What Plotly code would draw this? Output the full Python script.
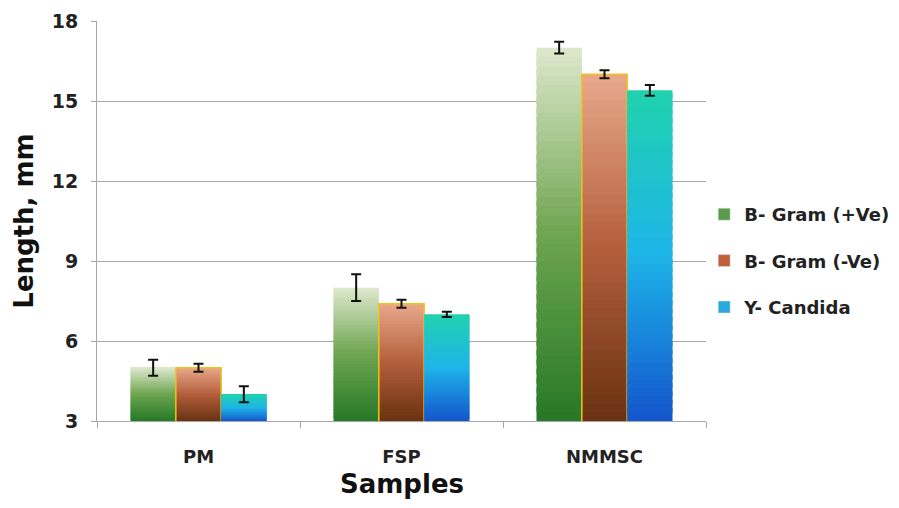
import plotly.graph_objects as go

categories = ["PM", "FSP", "NMMSC"]
series_names = ["B- Gram (+Ve)", "B- Gram (-Ve)", "Y- Candida"]
gram_pos = [5.0, 8.0, 17.0]
gram_neg = [5.0, 7.4, 16.0]
candida = [4.0, 7.0, 15.4]
err_gram_pos = [0.3, 0.5, 0.22]
err_gram_neg = [0.15, 0.15, 0.15]
err_candida = [0.3, 0.1, 0.2]
y_ticks = [3, 6, 9, 12, 15, 18]

values = [gram_pos, gram_neg, candida]
errors = [err_gram_pos, err_gram_neg, err_candida]

# gradient stops (bottom -> middle -> top)
stops = [
    [(38, 120, 38), (110, 165, 80), (222, 232, 205)],
    [(105, 50, 18), (180, 95, 60), (232, 168, 140)],
    [(20, 85, 205), (30, 180, 232), (32, 210, 175)],
]
outline = ["rgba(0,0,0,0)", "#f2c21a", "rgba(0,0,0,0)"]
legend_col = ["#5a9a48", "#c0603a", "#2aa8e0"]

AXMIN = 3
N = 40
group_w = 0.67
bw = group_w / 3


def lerp(c1, c2, t):
    return tuple(int(round(a + (b - a) * t)) for a, b in zip(c1, c2))


def grad(st, t):
    if t < 0.5:
        c = lerp(st[0], st[1], t / 0.5)
    else:
        c = lerp(st[1], st[2], (t - 0.5) / 0.5)
    return "rgb(%d,%d,%d)" % c


fig = go.Figure()
for s in range(3):
    off = -group_w / 2 + s * bw
    vals = values[s]
    for k in range(N):
        bases = [AXMIN + (v - AXMIN) * k / N for v in vals]
        frac = 1.0 if k == N - 1 else 1.6
        heights = [(v - AXMIN) / N * frac for v in vals]
        fig.add_trace(go.Bar(
            x=categories, y=heights, base=bases, offset=off, width=bw,
            marker=dict(color=grad(stops[s], (k + 0.5) / N), line=dict(width=0)),
            legendgroup=series_names[s], showlegend=False, hoverinfo="skip",
        ))
    fig.add_trace(go.Bar(
        x=categories, y=vals, offset=off, width=bw, name=series_names[s],
        legendgroup=series_names[s], showlegend=False,
        marker=dict(color="rgba(0,0,0,0)", line=dict(color=outline[s], width=1.5)),
        error_y=dict(type="data", array=errors[s], color="#111", thickness=2, width=5),
    ))

for s in range(3):
    fig.add_trace(go.Bar(
        x=[None], y=[None], name=series_names[s], legendgroup=series_names[s] + "_lg",
        marker=dict(color=legend_col[s]), showlegend=True,
    ))

font_family = "'DejaVu Sans', sans-serif"
fig.update_layout(
    width=883, height=492,
    barmode="overlay",
    margin=dict(l=89, r=185, t=13, b=79, autoexpand=False),
    paper_bgcolor="white", plot_bgcolor="white",
    font=dict(family=font_family, color="#222"),
    showlegend=True,
    legend=dict(
        x=0.997, xanchor="left", y=0.4, yanchor="middle",
        font=dict(size=18, family=font_family, color="#222", weight="bold"),
        tracegroupgap=20, itemwidth=30, bgcolor="rgba(0,0,0,0)",
        traceorder="grouped",
    ),
    xaxis=dict(
        type="category", showgrid=False, showline=True, linecolor="#a6a6a6", linewidth=1,
        ticks="outside", tickson="boundaries", ticklen=6, tickcolor="#a6a6a6",
        tickfont=dict(size=18, weight="bold", color="#222"), ticklabelstandoff=19,
        automargin=False,
    ),
    yaxis=dict(
        range=[3, 18], tickvals=y_ticks, showgrid=True, gridcolor="#a6a6a6", gridwidth=1,
        showline=True, linecolor="#a6a6a6", linewidth=1, zeroline=False,
        ticks="outside", ticklen=5, tickcolor="#a6a6a6",
        tickfont=dict(size=19, weight="bold", color="#222"), ticklabelstandoff=9,
        title=dict(text="Length, mm", font=dict(size=26, weight="bold", color="#111"), standoff=10),
        automargin=False,
    ),
    annotations=[dict(
        text="Samples", xref="paper", yref="paper", x=0.5, y=-0.1975,
        xanchor="center", yanchor="bottom", showarrow=False, borderpad=0,
        font=dict(size=26, weight="bold", color="#111", family=font_family),
    )],
)

fig.write_html("out.html")
